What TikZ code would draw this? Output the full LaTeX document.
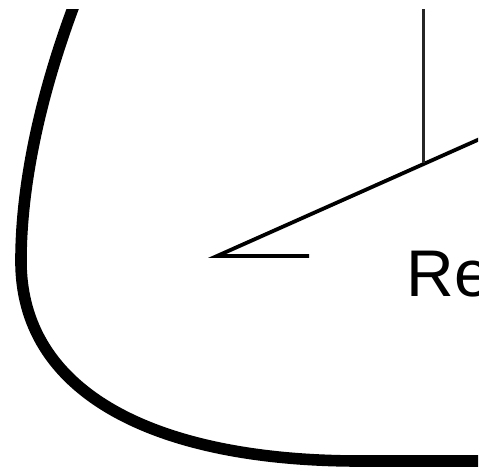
\documentclass[tikz,border=0pt]{standalone}
\usepackage{fontspec}
\setmainfont{Liberation Sans}
\usetikzlibrary{positioning}

\begin{document}
\begin{tikzpicture}[
    x=0.5pt,y=-0.5pt,
    outline/.style={line width=5.8pt,line cap=butt},
    leg/.style={line width=1.9pt},
    stem/.style={line width=1.5pt,draw=black!85},
    label/.style={anchor=base west,inner sep=0pt,font=\fontsize{33pt}{38pt}\selectfont}
  ]
    \useasboundingbox (0,0) rectangle (492,472);
    \clip (0,9) rectangle (478,472);
    \coordinate (apex) at (217,256);
    \coordinate (tip) at (309,256);
    \coordinate (far) at (500,130);
    \coordinate (foot) at (423,163);
    \coordinate (top) at (423,0);
    \draw[outline] (76,0) .. controls (38,100) and (21,190) .. (21,260)
      .. controls (20,390) and (150,461) .. (360,461) -- (500,461);
    \draw[leg] (far) -- (apex) -- (tip);
    \draw[stem] (top) -- (foot);
    \node[label] (re) at (406,296) {Re};
\end{tikzpicture}
\end{document}
